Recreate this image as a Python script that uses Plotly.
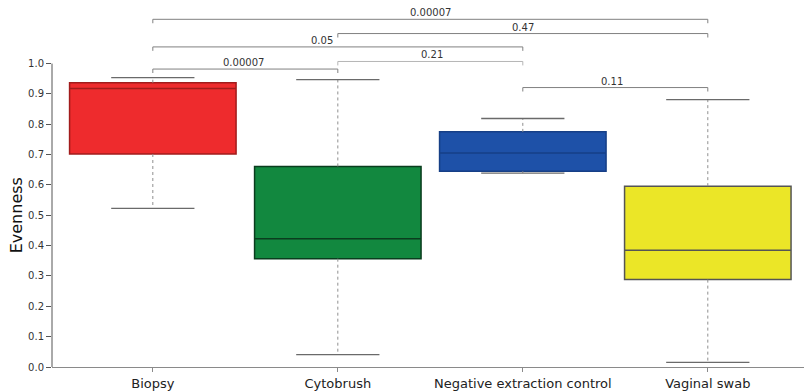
import plotly.graph_objects as go

categories = ["Biopsy", "Cytobrush", "Negative extraction control", "Vaginal swab"]
lower_whisker = [0.523, 0.041, 0.639, 0.015]
q1 = [0.702, 0.357, 0.645, 0.288]
median = [0.918, 0.423, 0.705, 0.385]
q3 = [0.937, 0.661, 0.775, 0.596]
upper_whisker = [0.954, 0.947, 0.819, 0.881]

fill_colors = ["#ee2b2d", "#12883f", "#1e51a8", "#ebe627"]
line_colors = ["#a11c1c", "#0a3d1e", "#163f86", "#555555"]

# significance brackets: (start group, end group, level, label, label x)
br_start = [0, 1, 0, 1, 0, 2]
br_end = [3, 3, 2, 2, 1, 3]
br_level = [1.146, 1.099, 1.055, 1.007, 0.982, 0.921]
br_label = ["0.00007", "0.47", "0.05", "0.21", "0.00007", "0.11"]
br_label_x = [1.5, 2.0, 0.915, 1.51, 0.49, 2.48]
br_color = ["#808080", "#808080", "#808080", "#b5b5b5", "#808080", "#808080"]

xs = list(range(len(categories)))
fig = go.Figure()

for i in xs:
    fig.add_trace(go.Box(
        x=[i], q1=[q1[i]], median=[median[i]], q3=[q3[i]],
        lowerfence=[q1[i]], upperfence=[q3[i]],
        width=0.9, fillcolor=fill_colors[i],
        line=dict(color=line_colors[i], width=1.5),
        boxpoints=False, showlegend=False, hoverinfo="skip",
    ))
    # dotted whiskers
    fig.add_trace(go.Scatter(
        x=[i, i, None, i, i], y=[q3[i], upper_whisker[i], None, q1[i], lower_whisker[i]],
        mode="lines", line=dict(color="#8f8f8f", width=1, dash="dot"),
        showlegend=False, hoverinfo="skip",
    ))
    # whisker caps
    cw = 0.225
    fig.add_trace(go.Scatter(
        x=[i - cw, i + cw, None, i - cw, i + cw],
        y=[upper_whisker[i], upper_whisker[i], None, lower_whisker[i], lower_whisker[i]],
        mode="lines", line=dict(color="#6a6a6a", width=1.3),
        showlegend=False, hoverinfo="skip",
    ))

leg = 0.013
for s, e, lv, lab, lx, c in zip(br_start, br_end, br_level, br_label, br_label_x, br_color):
    fig.add_trace(go.Scatter(
        x=[s, s, e, e], y=[lv - leg, lv, lv, lv - leg],
        mode="lines", line=dict(color=c, width=1),
        showlegend=False, hoverinfo="skip",
    ))
    fig.add_annotation(x=lx, y=lv, text=lab, showarrow=False, yanchor="bottom",
                       xanchor="center", yshift=-1,
                       font=dict(family="DejaVu Sans", size=10, color="#333333"))

# y axis line from 0 to 1
fig.add_shape(type="line", xref="paper", yref="y", x0=0, x1=0, y0=0, y1=1.0,
              line=dict(color="#555555", width=1))

# y-axis title centred on the 0–1 scale
fig.add_annotation(xref="paper", yref="y", x=0, y=0.5, xshift=-36, text="Evenness",
                   textangle=-90, showarrow=False, xanchor="center", yanchor="middle",
                   font=dict(family="DejaVu Sans", size=16, color="#111111"))

fig.update_layout(
    width=804, height=392,
    margin=dict(l=52, r=0, t=0, b=25),
    paper_bgcolor="white", plot_bgcolor="white",
    boxmode="overlay",
    font=dict(family="DejaVu Sans", color="#222222"),
    xaxis=dict(
        range=[-0.545, 3.52], tickmode="array", tickvals=xs, ticktext=categories,
        showgrid=False, zeroline=False, showline=True, linecolor="#8a8a8a", linewidth=1,
        ticks="outside", ticklen=4, tickcolor="#8a8a8a",
        tickfont=dict(family="DejaVu Sans", size=13, color="#222222"),
    ),
    yaxis=dict(
        range=[0, 1.2096], tickmode="array",
        tickvals=[0, 0.1, 0.2, 0.3, 0.4, 0.5, 0.6, 0.7, 0.8, 0.9, 1.0],
        ticktext=["0.0", "0.1", "0.2", "0.3", "0.4", "0.5", "0.6", "0.7", "0.8", "0.9", "1.0"],
        showgrid=False, zeroline=False, showline=False,
        ticks="outside", ticklen=5, tickcolor="#555555",
        tickfont=dict(family="DejaVu Sans", size=10, color="#333333"),
    ),
)

fig.write_html("out.html")
